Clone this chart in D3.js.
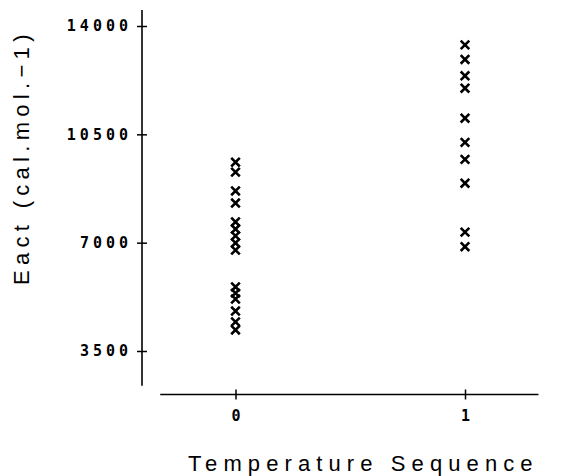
<!DOCTYPE html>
<html>
<head>
<meta charset="utf-8">
<script src="https://cdn.jsdelivr.net/npm/d3@7"></script>
<style>
  body { margin: 0; background: #fff; }
  svg { display: block; }
</style>
</head>
<body>
<script>
// data
const seq0 = [9600, 9280, 8670, 8280, 7670, 7440, 7220, 6990, 6760, 5570, 5370, 5180, 4790, 4440, 4180];
const seq1 = [13390, 12920, 12390, 11990, 11020, 10240, 9690, 8920, 7340, 6870];
const yTicks = [3500, 7000, 10500, 14000];
const xTicks = [0, 1];

const width = 568, height = 476;

const svg = d3.select('body').append('svg')
    .attr('width', width)
    .attr('height', height);

const x = d3.scaleLinear().domain([0, 1]).range([235.5, 465]);
const y = d3.scaleLinear().domain([3500, 14000]).range([351, 26]);

const tickFont = "'DejaVu Sans Mono', monospace";
const titleFont = "'Liberation Sans', Arial, sans-serif";

// y axis
const yAxis = svg.append('g')
    .attr('transform', 'translate(142,0)')
    .call(d3.axisLeft(y).tickValues(yTicks).tickSize(5).tickPadding(9).tickFormat(d3.format('d')));
yAxis.select('.domain').remove();
yAxis.append('line')
    .attr('x1', 0).attr('x2', 0)
    .attr('y1', y(14520)).attr('y2', y(2380))
    .attr('stroke', '#000').attr('stroke-width', 1.6);
yAxis.selectAll('.tick line').attr('x2', 5).attr('x1', -5).attr('stroke-width', 1.5);
yAxis.selectAll('.tick text')
    .attr('x', -10)
    .style('font-family', tickFont)
    .style('font-weight', 'bold')
    .style('font-size', '15px')
    .style('letter-spacing', '4px')
    .attr('fill', '#000');

// x axis
const xAxis = svg.append('g')
    .attr('transform', 'translate(0,394.5)')
    .call(d3.axisBottom(x).tickValues(xTicks).tickSize(5).tickPadding(11).tickFormat(d3.format('d')));
xAxis.select('.domain').remove();
xAxis.append('line')
    .attr('x1', x(-0.328)).attr('x2', x(1.32))
    .attr('y1', 0).attr('y2', 0)
    .attr('stroke', '#000').attr('stroke-width', 1.6);
xAxis.selectAll('.tick line').attr('y1', -5).attr('y2', 5).attr('stroke-width', 1.5);
xAxis.selectAll('.tick text')
    .style('font-family', tickFont)
    .style('font-weight', 'bold')
    .style('font-size', '15px')
    .attr('fill', '#000');

// markers
const pts = seq0.map(v => ({s: 0, v})).concat(seq1.map(v => ({s: 1, v})));
const r = 4.3;
svg.append('g').selectAll('path')
    .data(pts).enter().append('path')
    .attr('d', d => {
      const cx = x(d.s), cy = y(d.v);
      return `M${cx - r},${cy - r}L${cx + r},${cy + r}M${cx - r},${cy + r}L${cx + r},${cy - r}`;
    })
    .attr('stroke', '#000')
    .attr('stroke-width', 2.6)
    .attr('fill', 'none');

// titles
svg.append('text')
    .attr('x', 188).attr('y', 471)
    .style('font-family', titleFont)
    .style('font-size', '22px')
    .style('letter-spacing', '6.1px')
    .text('Temperature Sequence');

svg.append('text')
    .attr('transform', 'translate(29,285) rotate(-90)')
    .style('font-family', titleFont)
    .style('font-size', '22px')
    .style('letter-spacing', '5.3px')
    .text('Eact (cal.mol.\u22121)');
</script>
</body>
</html>
